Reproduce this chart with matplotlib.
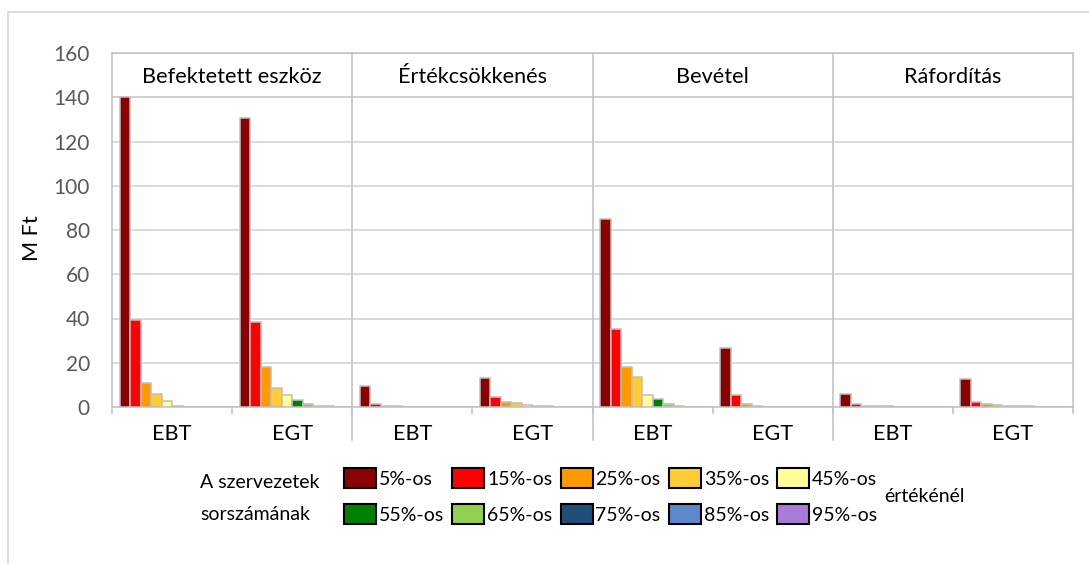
import matplotlib
matplotlib.use('Agg')
import matplotlib.pyplot as plt
from matplotlib.patches import Patch
from matplotlib.lines import Line2D
import numpy as np

plt.rcParams['font.family'] = ['Lato', 'DejaVu Sans']

# ---- data ----
panels = ['Befektetett eszköz', 'Értékcsökkenés', 'Bevétel', 'Ráfordítás']
groups = ['EBT', 'EGT']
series = ['5%-os', '15%-os', '25%-os', '35%-os', '45%-os',
          '55%-os', '65%-os', '75%-os', '85%-os', '95%-os']
colors = ['#8B0000', '#FF0000', '#FF9900', '#FFCC33', '#FFFF99',
          '#008000', '#92D050', '#1F4E79', '#5B87CB', '#A97BD6']

bef_ebt = [140.0, 39.2, 10.8, 5.7, 2.9, 0.6, 0.1, 0.0, 0.0, 0.0]
bef_egt = [130.5, 38.3, 18.0, 8.6, 5.3, 3.0, 1.5, 0.6, 0.3, 0.1]
ert_ebt = [9.3, 1.5, 0.6, 0.3, 0.2, 0.1, 0.1, 0.05, 0.0, 0.0]
ert_egt = [13.0, 4.4, 2.3, 1.7, 1.0, 0.4, 0.3, 0.2, 0.1, 0.0]
bev_ebt = [85.0, 35.1, 18.3, 13.5, 5.3, 3.4, 1.2, 0.5, 0.2, 0.1]
bev_egt = [26.8, 5.6, 1.5, 0.4, 0.2, 0.1, 0.0, 0.0, 0.0, 0.0]
raf_ebt = [6.0, 1.3, 0.5, 0.4, 0.3, 0.2, 0.2, 0.2, 0.1, 0.1]
raf_egt = [12.8, 2.1, 1.3, 0.8, 0.6, 0.4, 0.3, 0.2, 0.2, 0.1]

yticks = [0, 20, 40, 60, 80, 100, 120, 140, 160]
ylabel = 'M Ft'
legend_left = ['A szervezetek', 'sorszámának']
legend_right = 'értékénél'

# ---- figure ----
W, H = 1089, 564
fig = plt.figure(figsize=(W / 100, H / 100), dpi=100)
L, R, B, T = 112, 1073, 407, 53
ax = fig.add_axes([L / W, 1 - B / H, (R - L) / W, (B - T) / H])

data = np.array([bef_ebt, bef_egt, ert_ebt, ert_egt,
                 bev_ebt, bev_egt, raf_ebt, raf_egt])
ngroups = data.shape[0]
nser = data.shape[1]
gap = 0.0625
w = (1 - 2 * gap) / nser
gx = np.arange(ngroups)

for i in range(nser):
    ax.bar(gx + gap + w * (i + 0.5), data[:, i], width=w, color=colors[i],
           edgecolor='#BFBFBF', linewidth=1.1, zorder=3)

ax.set_xlim(0, ngroups)
ax.set_ylim(0, 160)
ax.set_yticks(yticks)
ax.set_yticklabels([str(v) for v in yticks], fontsize=15, color='#595959')
ax.tick_params(axis='y', length=0, pad=16)
ax.yaxis.grid(True, color='#D9D9D9', linewidth=1.4, zorder=0)
ax.set_axisbelow(True)

ax.set_xticks(np.arange(ngroups + 1))
ax.set_xticklabels([])
ax.tick_params(axis='x', length=5, width=1.1, color='#BFBFBF', direction='out')

for s in ax.spines.values():
    s.set_color('#BFBFBF')
    s.set_linewidth(1.1)

# panel dividers
trans = ax.get_xaxis_transform()
for k in range(1, len(panels)):
    ax.plot([2 * k, 2 * k], [-33 / (B - T), 1], transform=trans,
            color='#BFBFBF', linewidth=1.1, clip_on=False, zorder=4)

# header line and titles
ax.axhline(140, color='#D0D0D0', linewidth=1.4, zorder=2)
for k, p in enumerate(panels):
    ax.text(2 * k + 1, 149, p, ha='center', va='center', fontsize=15.6, color='black')

# group labels
for j in range(ngroups):
    ax.text(j + 0.5, -27 / (B - T), groups[j % 2], transform=trans,
            ha='center', va='center', fontsize=15.6, color='black')

fig.text(32 / W, 1 - 238 / H, ylabel, rotation=90, ha='center', va='center',
         fontsize=15.6, color='black')

# legend (row-major order across 5 columns)
handles = [Patch(facecolor=c, edgecolor='black', linewidth=1.5) for c in colors]
ncol = 5
order = [r * ncol + c for c in range(ncol) for r in range(2)]
fs = 14
fpx = fs * 100 / 72
leg = fig.legend([handles[k] for k in order], [series[k] for k in order],
                 loc='upper left',
                 bbox_to_anchor=(344 / W, 1 - 468 / H), ncol=ncol, frameon=False,
                 fontsize=fs, handlelength=32 / fpx, handleheight=24 / fpx,
                 handletextpad=0.15, columnspacing=0.42, labelspacing=0.8,
                 borderpad=0, borderaxespad=0)

fig.text(200 / W, 1 - 482 / H, legend_left[0], ha='left', va='center', fontsize=fs)
fig.text(200 / W, 1 - 515 / H, legend_left[1], ha='left', va='center', fontsize=fs)
fig.text(884 / W, 1 - 497 / H, legend_right, ha='left', va='center', fontsize=fs)

# outer chart frame
fig.add_artist(Line2D([8 / W, 8 / W], [0, 1 - 12 / H], transform=fig.transFigure,
                      color='#D9D9D9', linewidth=1.2))
fig.add_artist(Line2D([8 / W, 1], [1 - 12 / H, 1 - 12 / H], transform=fig.transFigure,
                      color='#D9D9D9', linewidth=1.2))

fig.savefig('out.png', dpi=100)
